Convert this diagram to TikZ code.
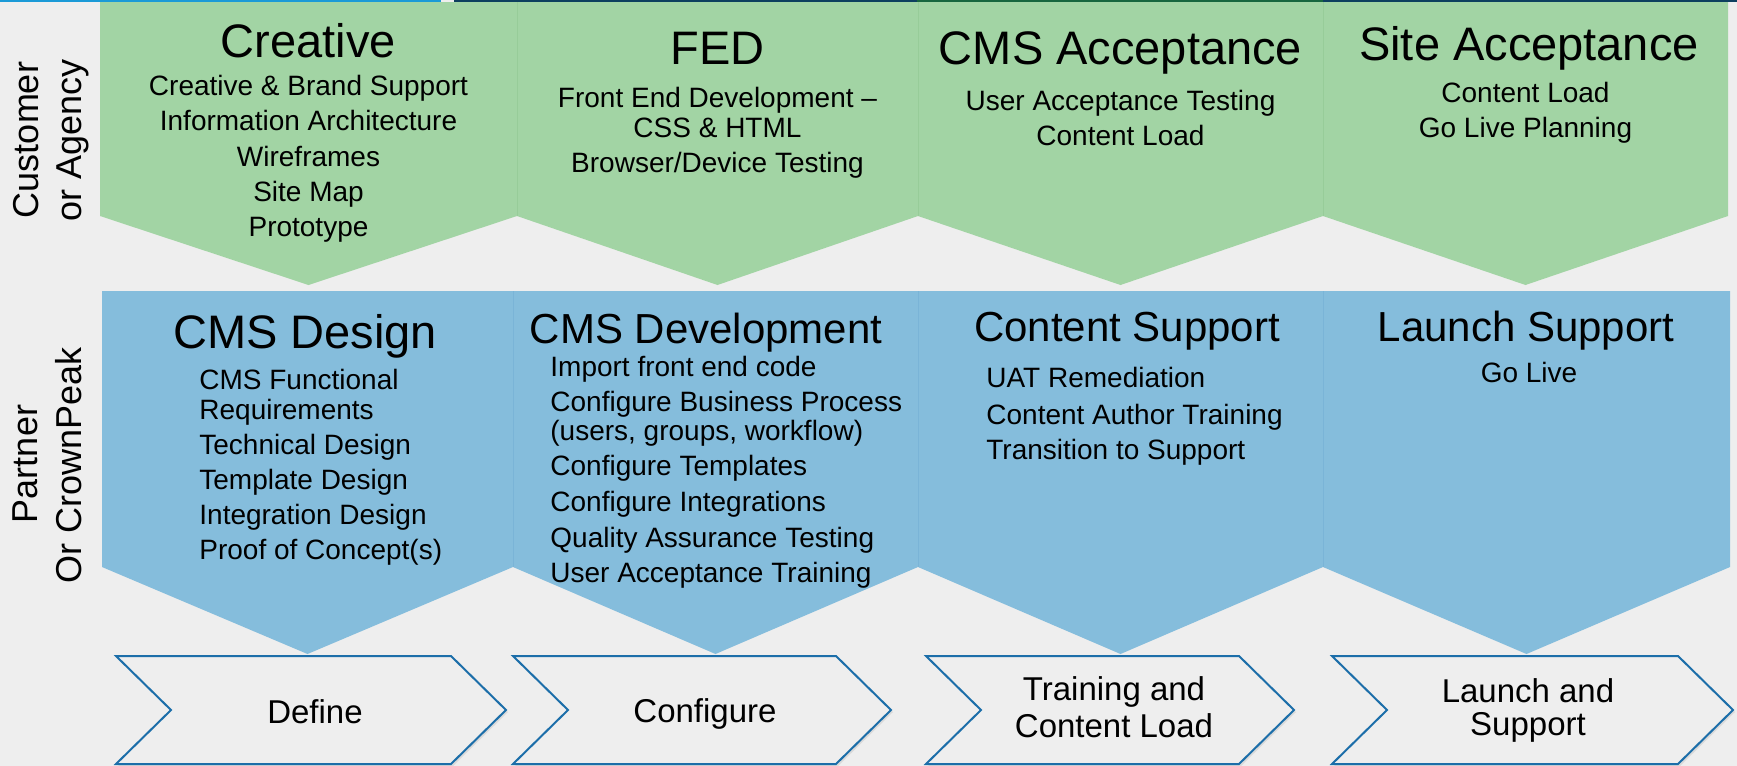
\documentclass[tikz,border=0pt]{standalone}
\usepackage{fontspec}
\setmainfont{Liberation Sans}
\usetikzlibrary{shadows}

\definecolor{pagegray}{HTML}{EEEEEE}
\definecolor{agencygreen}{HTML}{A2D4A4}
\definecolor{agencyline}{HTML}{97CC99}
\definecolor{partnerblue}{HTML}{85BDDC}
\definecolor{partnerline}{HTML}{7AB4D7}
\definecolor{stageblue}{HTML}{1C6EA9}
\definecolor{topblue}{HTML}{1B9AD7}
\definecolor{topnavy}{HTML}{0D3F5F}
\definecolor{topgreen}{HTML}{17663F}

\begin{document}
\begin{tikzpicture}[x = 0.5pt, y = -0.5pt,
	phase/.style = {anchor = base, inner sep = 0pt, font = \fontsize{23.5}{28}\selectfont},
	subphase/.style = {anchor = base, inner sep = 0pt, font = \fontsize{21}{25}\selectfont},
	task/.style = {anchor = base, inner sep = 0pt, font = \fontsize{14}{17}\selectfont},
	lefttask/.style = {task, anchor = base west},
	lanelabel/.style = {anchor = base, rotate = 90, inner sep = 0pt, font = \fontsize{18}{21}\selectfont},
	stagelabel/.style = {anchor = base, inner sep = 0pt, font = \fontsize{16.5}{20}\selectfont},
	stagebox/.style = {draw = stageblue, line width = 1pt, fill = pagegray, drop shadow = {shadow xshift = 1pt, shadow yshift = -1pt, opacity = 0.18}}]

	% Page

	\fill [pagegray] (0, 0) rectangle (1737, 766);
	\useasboundingbox (0, 0) rectangle (1737, 766);

	% Top rule

	\begin{scope}[line width = 1pt]
		\draw [topblue] (0, 1) -- (441, 1);
		\draw [topnavy] (454, 1) -- (917, 1);
		\draw [topgreen] (917, 1) -- (1323, 1);
		\draw [topnavy] (1323, 1) -- (1737, 1);
	\end{scope}

	% Customer lane

	\foreach \l/\r in {100/517, 517/918, 918/1323, 1323/1728}
		\fill [agencygreen] (\l, 2) -- (\r, 2) -- (\r, 216) -- ({(\l + \r) / 2}, 285) -- (\l, 216) -- cycle;
	\foreach \s in {517, 918, 1323}
		\draw [agencyline, line width = 0.4pt] (\s, 2) -- (\s, 216);

	% Partner lane

	\foreach \l/\r in {102/513, 513/918, 918/1323, 1323/1730}
		\fill [partnerblue] (\l, 291) -- (\r, 291) -- (\r, 567) -- ({(\l + \r) / 2}, 654) -- (\l, 567) -- cycle;
	\foreach \s in {513, 918, 1323}
		\draw [partnerline, line width = 0.4pt] (\s, 291) -- (\s, 567);

	% Lane labels

	\node [lanelabel] (cust) at (39, 140) {Customer};
	\node [lanelabel] (agency) at (82, 140) {or Agency};
	\node [lanelabel] (partner) at (38, 464) {Partner};
	\node [lanelabel] (crownpeak) at (82, 465) {Or CrownPeak};

	% Customer phases

	\node [phase] (creative) at (308.5, 57) {Creative};
	\foreach \yy/\txt [count = \i] in {95/Creative \& Brand Support, 130.5/Information Architecture, 166/Wireframes, 201/Site Map, 236/Prototype}
		\node [task] (creative-\i) at (308.5, \yy) {\txt};

	\node [phase] (fed) at (717.5, 64) {FED};
	\foreach \yy/\txt [count = \i] in {107/Front End Development –, 137/CSS \& HTML, 172/{Browser/Device Testing}}
		\node [task] (fed-\i) at (717.5, \yy) {\txt};

	\node [phase] (cmsaccept) at (1120.5, 64) {CMS Acceptance};
	\foreach \yy/\txt [count = \i] in {110/User Acceptance Testing, 145/Content Load}
		\node [task] (cmsaccept-\i) at (1120.5, \yy) {\txt};

	\node [phase] (siteaccept) at (1529, 60) {Site Acceptance};
	\foreach \yy/\txt [count = \i] in {102/Content Load, 137/Go Live Planning}
		\node [task] (siteaccept-\i) at (1525.5, \yy) {\txt};

	% Partner phases

	\node [phase] (design) at (305, 348) {CMS Design};
	\foreach \yy/\txt [count = \i] in {389/CMS Functional, 419/Requirements, 454/Technical Design, 489/Template Design, 524/Integration Design, 559/Proof of Concept(s)}
		\node [lefttask] (design-\i) at (199, \yy) {\txt};

	\node [subphase] (develop) at (706, 343) {CMS Development};
	\foreach \yy/\txt [count = \i] in {376/Import front end code, 411/Configure Business Process, 440/{(users, groups, workflow)}, 475/Configure Templates, 511/Configure Integrations, 547/Quality Assurance Testing, 582/User Acceptance Training}
		\node [lefttask] (develop-\i) at (550, \yy) {\txt};

	\node [subphase] (content) at (1127, 341) {Content Support};
	\foreach \yy/\txt [count = \i] in {387/UAT Remediation, 424/Content Author Training, 459/Transition to Support}
		\node [lefttask] (content-\i) at (986, \yy) {\txt};

	\node [subphase] (launch) at (1526, 341) {Launch Support};
	\node [task] (launch-1) at (1529, 382) {Go Live};

	% Stages

	\foreach \a/\b in {116/506, 513/891, 926/1294, 1332/1733}
		\draw [stagebox] (\a, 656) -- ({\b - 55}, 656) -- (\b, 710) -- ({\b - 55}, 764) -- (\a, 764) -- ({\a + 55}, 710) -- cycle;

	\node [stagelabel] (define) at (315, 723) {Define};
	\node [stagelabel] (configure) at (705, 722) {Configure};
	\node [stagelabel] (training-1) at (1114, 700) {Training and};
	\node [stagelabel] (training-2) at (1114, 737) {Content Load};
	\node [stagelabel] (launching-1) at (1528, 702) {Launch and};
	\node [stagelabel] (launching-2) at (1528, 735) {Support};

\end{tikzpicture}
\end{document}
